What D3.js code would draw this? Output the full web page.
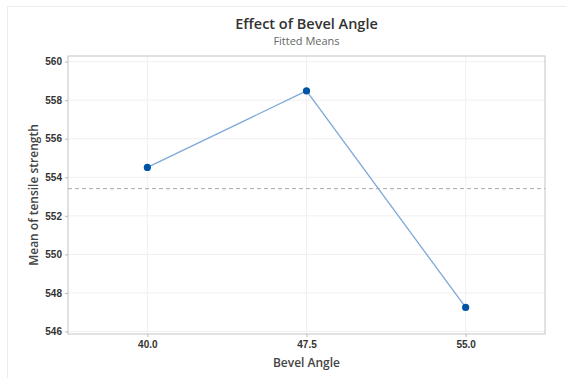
<!DOCTYPE html>
<html>
<head>
<meta charset="utf-8">
<script src="https://cdn.jsdelivr.net/npm/d3@7"></script>
<style>
  body { margin: 0; background: #fff; }
  svg { display: block; font-family: "Open Sans", "Noto Sans", sans-serif; }
</style>
</head>
<body>
<div id="chart"></div>
<script>
const angles = [40.0, 47.5, 55.0];
const fittedMeans = [554.51, 558.48, 547.25];
const overallMean = 553.41;
const yTicks = [546, 548, 550, 552, 554, 556, 558, 560];

const W = 566, H = 378;
const margin = { top: 56, right: 21, bottom: 44, left: 68 };
const width = W - margin.left - margin.right;
const height = H - margin.top - margin.bottom;

const svg = d3.select("#chart").append("svg")
  .attr("width", W).attr("height", H);

// faint outer frame
svg.append("rect")
  .attr("x", 7.5).attr("y", 6.5)
  .attr("width", W + 10).attr("height", H + 10)
  .attr("fill", "none").attr("stroke", "#ececec");

const x = d3.scaleLinear().domain([36.26, 58.74]).range([0, width]);
const y = d3.scaleLinear().domain([545.87, 560.29]).range([height, 0]);

const g = svg.append("g").attr("transform", `translate(${margin.left},${margin.top})`);

// gridlines
g.selectAll(".hgrid").data(yTicks).join("line")
  .attr("x1", 0).attr("x2", width)
  .attr("y1", d => y(d)).attr("y2", d => y(d))
  .attr("stroke", "#f0f0f0");
g.selectAll(".vgrid").data(angles).join("line")
  .attr("x1", d => x(d)).attr("x2", d => x(d))
  .attr("y1", 0).attr("y2", height)
  .attr("stroke", "#f0f0f0");

// axes
const yAxis = g.append("g")
  .call(d3.axisLeft(y).tickValues(yTicks).tickFormat(d3.format("d")).tickSize(3).tickPadding(3));
const xAxis = g.append("g").attr("transform", `translate(0,${height})`)
  .call(d3.axisBottom(x).tickValues(angles).tickFormat(d3.format(".1f")).tickSize(3).tickPadding(4));
[xAxis, yAxis].forEach(a => {
  a.select(".domain").remove();
  a.selectAll(".tick line").attr("stroke", "#bbb");
  a.selectAll("text").attr("fill", "#333").style("font-size", "10px").style("font-weight", "600");
});

// plot frame
g.append("rect").attr("width", width).attr("height", height)
  .attr("fill", "none").attr("stroke", "#c4c4c4");

// overall mean reference line
g.append("line")
  .attr("x1", 0).attr("x2", width)
  .attr("y1", y(overallMean)).attr("y2", y(overallMean))
  .attr("stroke", "#aaa").attr("stroke-dasharray", "4,3");

const pts = angles.map((a, i) => ({ a, m: fittedMeans[i] }));

g.append("path").datum(pts)
  .attr("fill", "none").attr("stroke", "#7ea8d8").attr("stroke-width", 1.3)
  .attr("d", d3.line().x(d => x(d.a)).y(d => y(d.m)));

g.selectAll(".pt").data(pts).join("circle")
  .attr("cx", d => x(d.a)).attr("cy", d => y(d.m))
  .attr("r", 3.6).attr("fill", "#0054a6");

// titles
const cx = margin.left + width / 2;
svg.append("text").attr("x", cx).attr("y", 29)
  .attr("text-anchor", "middle").attr("fill", "#333")
  .style("font-size", "14.5px").style("font-weight", "600")
  .text("Effect of Bevel Angle");
svg.append("text").attr("x", cx).attr("y", 45)
  .attr("text-anchor", "middle").attr("fill", "#666")
  .style("font-size", "11px")
  .text("Fitted Means");
svg.append("text").attr("x", cx).attr("y", 367)
  .attr("text-anchor", "middle").attr("fill", "#444")
  .style("font-size", "12px").style("font-weight", "600")
  .text("Bevel Angle");
svg.append("text")
  .attr("transform", `translate(38,${margin.top + height / 2}) rotate(-90)`)
  .attr("text-anchor", "middle").attr("fill", "#444")
  .style("font-size", "12px").style("font-weight", "600")
  .text("Mean of tensile strength");
</script>
</body>
</html>
